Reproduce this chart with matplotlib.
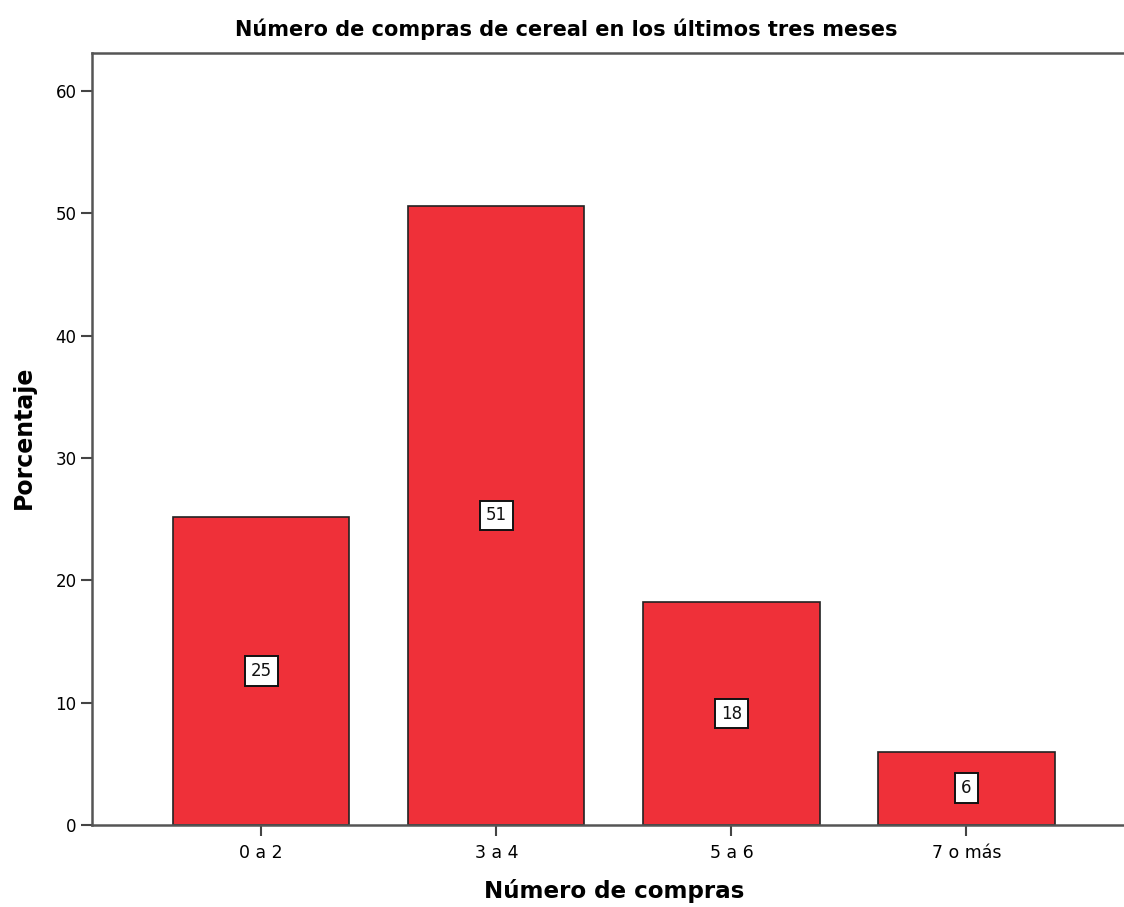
import matplotlib.pyplot as plt

plt.rcParams['font.family'] = ['DejaVu Sans']

categorias = ['0 a 2', '3 a 4', '5 a 6', '7 o más']
porcentajes = [25.2, 50.6, 18.2, 6.0]
yticks = [0, 10, 20, 30, 40, 50, 60]

fig = plt.figure(figsize=(11.24, 9.07), dpi=100)
# eje ocupando casi toda la figura, sin borde derecho
ax = fig.add_axes([92 / 1124, 82 / 907, 1 - 92 / 1124, 772 / 907])

x = range(len(categorias))
ax.bar(x, porcentajes, width=0.75, color='#EF3039', edgecolor='#222222',
       linewidth=1.2, zorder=2)

# etiquetas con el porcentaje redondeado en el centro de cada barra
for xi, v in zip(x, porcentajes):
    ax.text(xi, v / 2, f'{v:.0f}', ha='center', va='center', fontsize=12,
            color='#111111', zorder=3,
            bbox=dict(boxstyle='square,pad=0.35', facecolor='white',
                      edgecolor='#111111', linewidth=1.4))

ax.set_xlim(-0.72, 3.67)
ax.set_ylim(0, 63.1)
ax.set_xticks(list(x))
ax.set_xticklabels(categorias, fontsize=12.5)
ax.set_yticks(yticks)
ax.tick_params(axis='y', labelsize=12, length=8, width=1.5, color='#444444', pad=3)
ax.tick_params(axis='x', length=8, width=1.5, color='#444444', pad=6)

for s in ['left', 'bottom', 'top']:
    ax.spines[s].set_color('#555555')
    ax.spines[s].set_linewidth(1.8)
ax.spines['right'].set_visible(False)

ax.set_title('Número de compras de cereal en los últimos tres meses',
             fontsize=15, fontweight='bold', pad=12, x=(566 - 92) / 1032)
ax.set_xlabel('Número de compras', fontsize=16.6, fontweight='bold')
ax.xaxis.set_label_coords((614 - 92) / 1032, -0.07)
ax.set_ylabel('Porcentaje', fontsize=17, fontweight='bold')
ax.yaxis.set_label_coords(-0.054, (825 - 437) / 772)

fig.savefig('out.png', dpi=100)
